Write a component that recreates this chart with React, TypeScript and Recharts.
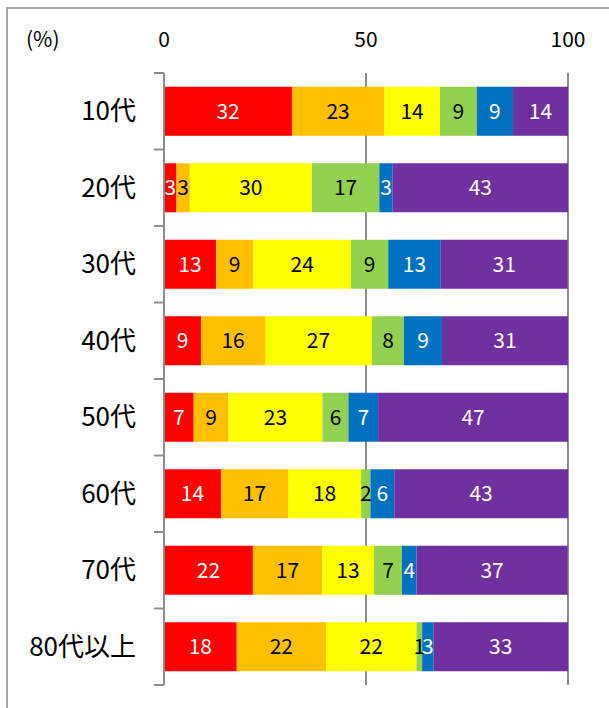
import React from "react";
import * as R from "recharts";
import { BarChart, Bar, XAxis, YAxis, CartesianGrid, LabelList } from "recharts";

const categories = ["10代", "20代", "30代", "40代", "50代", "60代", "70代", "80代以上"];
const seriesRed = [31.7, 3.1, 12.9, 9.2, 7.35, 14.1, 22.0, 18.0];
const seriesOrange = [22.8, 3.3, 9.2, 15.8, 8.6, 16.6, 17.1, 22.1];
const seriesYellow = [13.8, 30.2, 24.2, 26.5, 23.3, 18.1, 12.9, 22.4];
const seriesGreen = [9.1, 16.7, 9.2, 7.9, 6.4, 2.3, 6.9, 1.4];
const seriesBlue = [9.0, 3.3, 13.0, 9.4, 7.35, 5.9, 3.6, 2.8];
const seriesPurple = [13.6, 43.4, 31.4, 31.2, 47.0, 43.0, 37.4, 33.3];
const xTicks = [0, 50, 100];

const series = [
  { key: "red", values: seriesRed, color: "#FF0000", label: "#FFFFFF" },
  { key: "orange", values: seriesOrange, color: "#FFC000", label: "#000000" },
  { key: "yellow", values: seriesYellow, color: "#FFFF00", label: "#000000" },
  { key: "green", values: seriesGreen, color: "#92D050", label: "#000000" },
  { key: "blue", values: seriesBlue, color: "#0070C0", label: "#FFFFFF" },
  { key: "purple", values: seriesPurple, color: "#7030A0", label: "#FFFFFF" },
];

const data = categories.map((name, i) => {
  const row: Record<string, any> = { name };
  series.forEach((s) => {
    row[s.key] = s.values[i];
  });
  return row;
});

const FONT = "'Noto Sans CJK JP', 'Noto Sans', sans-serif";
const AXIS_COLOR = "#8C8C8C";

function CategoryTicks() {
  const anyR = R as any;
  const area = anyR.usePlotArea ? anyR.usePlotArea() : null;
  if (!area) return null;
  const n = categories.length;
  const lines = [];
  for (let i = 0; i <= n; i++) {
    const y = area.y + (i * area.height) / n;
    lines.push(
      <line key={i} x1={area.x - 10} x2={area.x} y1={y} y2={y} stroke={AXIS_COLOR} strokeWidth={2} />
    );
  }
  return <g>{lines}</g>;
}

export default function App() {
  return (
    <div
      style={{
        position: "fixed",
        left: 0,
        top: 0,
        width: 609,
        height: 708,
        overflow: "hidden",
        background: "#fff",
        fontFamily: FONT,
      }}
    >
      <div
        style={{
          position: "absolute",
          left: 6,
          top: 7,
          width: 700,
          height: 800,
          border: "2px solid #A6A6A6",
        }}
      />
      <div
        style={{
          position: "absolute",
          left: 26,
          top: 23,
          fontSize: 21,
          color: "#000",
          fontFamily: FONT,
        }}
      >
        (%)
      </div>
      <div style={{ position: "absolute", left: 0, top: 0 }}>
        <BarChart
          width={609}
          height={708}
          data={data}
          layout="vertical"
          margin={{ top: 0, right: 41, bottom: 23, left: 0 }}
          barCategoryGap="18%"
        >
          <CartesianGrid horizontal={false} vertical={true} stroke={AXIS_COLOR} strokeWidth={2} />
          <XAxis
            type="number"
            orientation="top"
            domain={[0, 100]}
            ticks={xTicks}
            height={73}
            axisLine={false}
            tickLine={false}
            tickSize={0}
            tickMargin={26}
            tick={{ fontSize: 21, fill: "#000", fontFamily: FONT }}
          />
          <YAxis
            type="category"
            dataKey="name"
            width={164}
            axisLine={{ stroke: AXIS_COLOR, strokeWidth: 2 }}
            tickLine={false}
            tickSize={0}
            tickMargin={28}
            tick={{ fontSize: 26, fill: "#000", fontFamily: FONT }}
          />
          {series.map((s) => (
            <Bar key={s.key} dataKey={s.key} stackId="a" fill={s.color} isAnimationActive={false}>
              <LabelList
                dataKey={s.key}
                position="center"
                fill={s.label}
                style={{ fontSize: 21, fontFamily: FONT }}
                formatter={(v: any) => Math.round(Number(v))}
              />
            </Bar>
          ))}
          <CategoryTicks />
        </BarChart>
      </div>
    </div>
  );
}
